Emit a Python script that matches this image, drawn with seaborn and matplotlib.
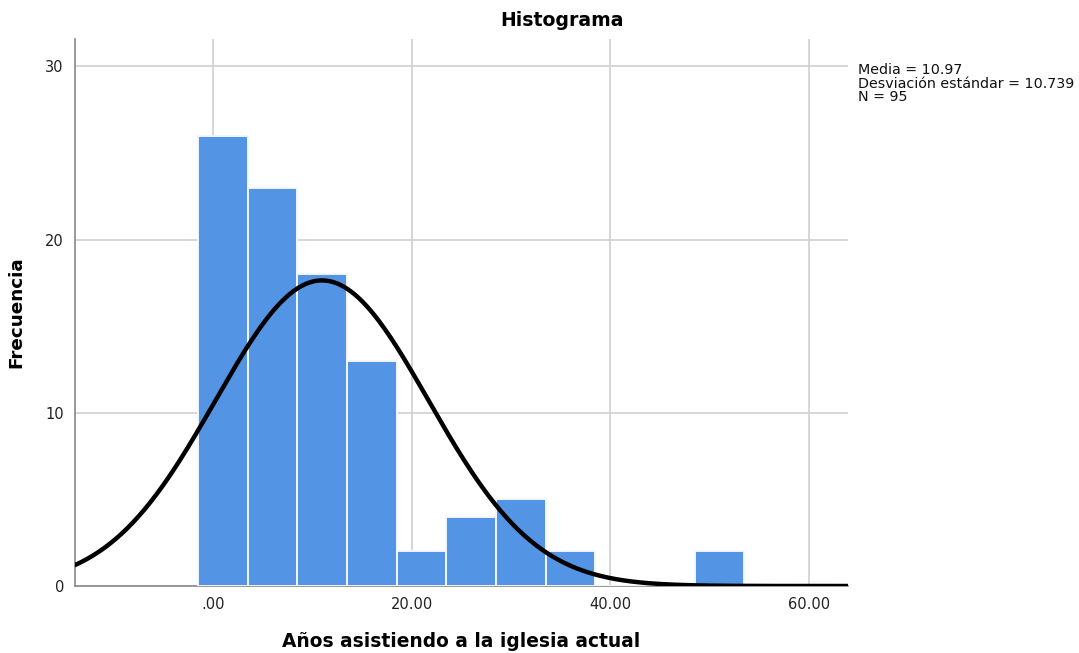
import numpy as np
import pandas as pd
import matplotlib
matplotlib.use("Agg")
import matplotlib.pyplot as plt
import seaborn as sns

bin_edges = [-1.5, 3.5, 8.5, 13.5, 18.5, 23.5, 28.5, 33.5, 38.5, 43.5, 48.5, 53.5]
bin_centers = [1.0, 6.0, 11.0, 16.0, 21.0, 26.0, 31.0, 36.0, 41.0, 46.0, 51.0]
frecuencias = [26, 23, 18, 13, 2, 4, 5, 2, 0, 0, 2]

media = 10.97
desv = 10.739
n_total = 95
ancho_bin = 5.0

x_ticks = [0, 20, 40, 60]
x_ticklabels = [".00", "20.00", "40.00", "60.00"]
y_ticks = [0, 10, 20, 30]

sns.set_theme(style="white")
plt.rcParams['font.family'] = ['DejaVu Sans']

fig = plt.figure(figsize=(10.79, 6.53), dpi=100)
ax = fig.add_axes([0.0695, 0.1026, 0.7161, 0.8381])

df = pd.DataFrame({"x": bin_centers, "w": frecuencias})
sns.histplot(data=df, x="x", weights="w", bins=bin_edges, ax=ax,
             color="#5494e4", alpha=1.0, edgecolor="#f2f6fd", linewidth=1.4,
             zorder=3)

# curva normal ajustada (media, desviacion y N mostrados en el grafico)
xs = np.linspace(-13.9, 63.9, 400)
ys = n_total * ancho_bin * np.exp(-0.5 * ((xs - media) / desv) ** 2) / (desv * np.sqrt(2 * np.pi))
sns.lineplot(x=xs, y=ys, ax=ax, color="black", linewidth=3.2, zorder=4)

ax.set_xlim(-13.9, 63.9)
ax.set_ylim(0, 31.6)
ax.set_xticks(x_ticks)
ax.set_xticklabels(x_ticklabels)
ax.set_yticks(y_ticks)
ax.tick_params(axis="both", length=0, labelsize=10.5, colors="#222222", pad=8)

ax.grid(True, color="#d0d0d0", linewidth=1.2, zorder=0)
ax.set_axisbelow(True)
for s in ["top", "right"]:
    ax.spines[s].set_visible(False)
for s in ["left", "bottom"]:
    ax.spines[s].set_color("#888888")
    ax.spines[s].set_linewidth(1.2)

ax.set_xlabel("Años asistiendo a la iglesia actual", fontsize=13.4, fontweight="bold",
              labelpad=14, color="black")
ax.set_ylabel("Frecuencia", fontsize=13.2, fontweight="bold", labelpad=14, color="black")

fig.text(0.521, 0.968, "Histograma", ha="center", va="center", fontsize=13.6,
         fontweight="bold", color="black")
fig.text(0.795, 0.903, "Media = 10.97\nDesviación estándar = 10.739\nN = 95",
         ha="left", va="top", fontsize=10.3, linespacing=0.95, color="#111111")

fig.savefig("out.png", dpi=100)
